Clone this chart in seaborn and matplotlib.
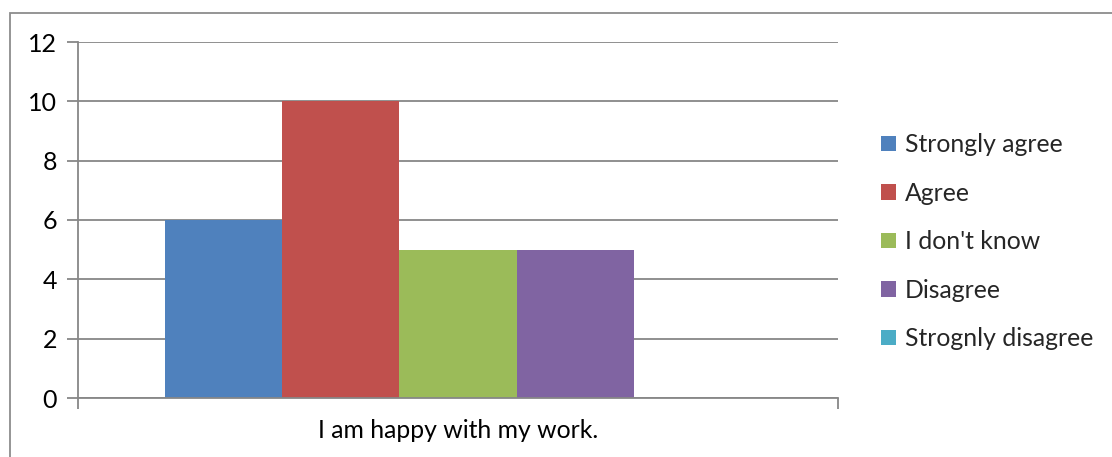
import matplotlib
matplotlib.use("Agg")
import matplotlib.pyplot as plt
from matplotlib.patches import Rectangle
import seaborn as sns
import pandas as pd

# Survey responses for one statement
categories = ["I am happy with my work."]
responses = ["Strongly agree", "Agree", "I don't know", "Disagree", "Strognly disagree"]
counts = [6, 10, 5, 5, 0]
y_ticks = [0, 2, 4, 6, 8, 10, 12]

colors = ["#4F81BD", "#C0504D", "#9BBB59", "#8064A2", "#4BACC6"]

df = pd.DataFrame({
    "statement": categories * len(responses),
    "response": responses,
    "count": counts,
})

sns.set_theme(style="white")
plt.rcParams["font.family"] = ["Lato", "DejaVu Sans"]

W, H = 1112, 457
fig = plt.figure(figsize=(W / 100, H / 100), dpi=100)
ax = fig.add_axes([78 / W, 1 - 398 / H, (838 - 78) / W, (398 - 42) / H])

grid_color = "#878787"

sns.barplot(
    data=df, x="statement", y="count", hue="response",
    hue_order=responses, palette=colors, width=0.77,
    linewidth=0, saturation=1, ax=ax, legend=True,
)

ax.set_xlim(-0.5, 0.5)
ax.set_ylim(0, 12)
ax.set_yticks(y_ticks)
ax.yaxis.grid(True, color=grid_color, linewidth=1.3)
ax.set_axisbelow(True)
ax.set_xlabel("")
ax.set_ylabel("")

for side in ["top", "right"]:
    ax.spines[side].set_visible(False)
for side in ["left", "bottom"]:
    ax.spines[side].set_color(grid_color)
    ax.spines[side].set_linewidth(1.3)

ax.tick_params(axis="y", which="major", direction="out", length=8, width=1.3,
               color=grid_color, labelsize=18, labelcolor="black", pad=7,
               left=True)
ax.tick_params(axis="x", which="major", length=0, labelsize=17.8, labelcolor="black", pad=15)
ax.set_xticks([-0.5, 0.5], minor=True)
ax.tick_params(axis="x", which="minor", direction="out", length=8, width=1.3,
               color=grid_color, bottom=True)

handles, labels = ax.get_legend_handles_labels()
ax.get_legend().remove()
fig.legend(
    handles, labels, loc="upper left",
    bbox_to_anchor=(859 / W, 1 - 111 / H),
    frameon=False, fontsize=17.8, handlelength=0.58, handleheight=0.58,
    handletextpad=0.38, labelspacing=1.03,
)

# Chart frame
fig.add_artist(Rectangle((10 / W, -0.1), 1.2, 1 - 13 / H + 0.1,
                         transform=fig.transFigure, fill=False,
                         edgecolor="#8c8c8c", linewidth=1.3))

fig.savefig("out.png", dpi=100)
